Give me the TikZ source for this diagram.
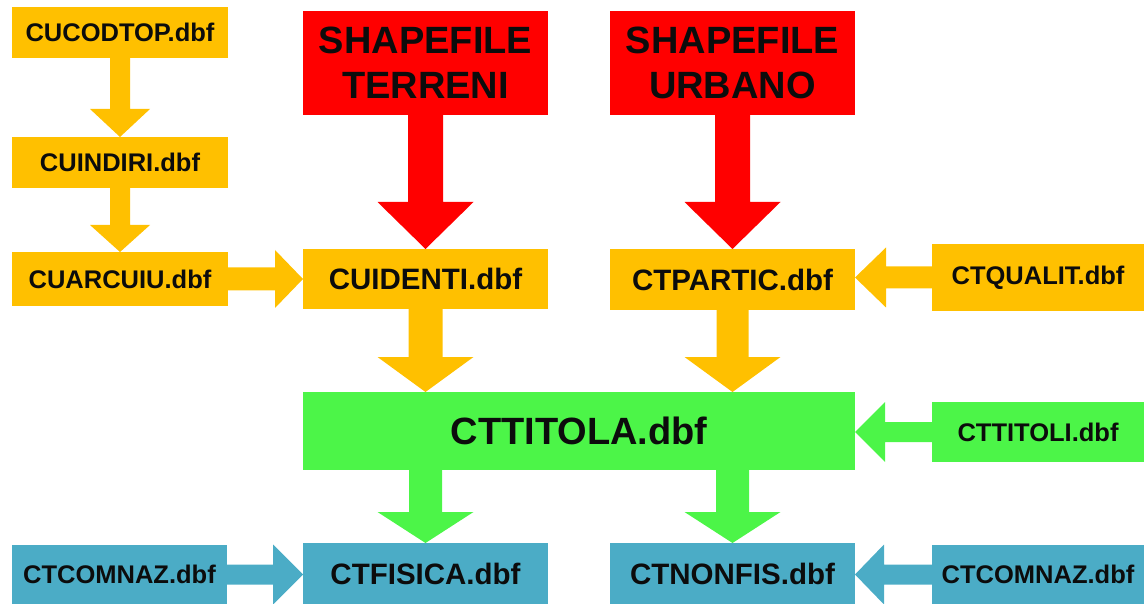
\documentclass[tikz,border=0pt]{standalone}
\usepackage{fontspec}
\setmainfont{Liberation Sans}
\usetikzlibrary{calc}

\definecolor{goldfill}{RGB}{255,192,0}
\definecolor{redfill}{RGB}{255,0,0}
\definecolor{greenfill}{RGB}{76,245,72}
\definecolor{bluefill}{RGB}{75,172,198}
\definecolor{ink}{RGB}{12,12,12}

\tikzset{
  box/.style={rectangle, inner sep=0pt, outer sep=0pt, text=ink, align=center},
  smallbox/.style={box, font=\fontsize{25.5}{28}\selectfont\bfseries},
  midbox/.style={box, font=\fontsize{29.5}{32}\selectfont\bfseries},
  bigbox/.style={box, font=\fontsize{38}{45}\selectfont\bfseries},
  gold/.style={fill=goldfill},
  redb/.style={fill=redfill},
  greenb/.style={fill=greenfill},
  blueb/.style={fill=bluefill},
}

% block arrows: colour, start, tip, shaft half width, head half width, head length
\newcommand\blockdown[6]{%
  \fill[#1] ($(#2)+(-#4,0)$) -- ($(#3)+(-#4,-#6)$) -- ($(#3)+(-#5,-#6)$) -- (#3)
    -- ($(#3)+(#5,-#6)$) -- ($(#3)+(#4,-#6)$) -- ($(#2)+(#4,0)$) -- cycle;}
\newcommand\blockright[6]{%
  \fill[#1] ($(#2)+(0,-#4)$) -- ($(#3)+(-#6,-#4)$) -- ($(#3)+(-#6,-#5)$) -- (#3)
    -- ($(#3)+(-#6,#5)$) -- ($(#3)+(-#6,#4)$) -- ($(#2)+(0,#4)$) -- cycle;}
\newcommand\blockleft[6]{%
  \fill[#1] ($(#2)+(0,-#4)$) -- ($(#3)+(#6,-#4)$) -- ($(#3)+(#6,-#5)$) -- (#3)
    -- ($(#3)+(#6,#5)$) -- ($(#3)+(#6,#4)$) -- ($(#2)+(0,#4)$) -- cycle;}

\begin{document}
\begin{tikzpicture}[x=1pt, y=-1pt]
\useasboundingbox (0,0) rectangle (1144,604);

% left column
\node[smallbox, gold, minimum width=216pt, minimum height=51pt] (cucodtop) at (120,32.5) {CUCODTOP.dbf};
\node[smallbox, gold, minimum width=216pt, minimum height=51pt] (cuindiri) at (120,162.5) {CUINDIRI.dbf};
\node[smallbox, gold, minimum width=216pt, minimum height=54pt] (cuarcuiu) at (120,279) {CUARCUIU.dbf};
\node[smallbox, blueb, minimum width=215pt, minimum height=59pt] (comnazl) at (119.5,574.5) {CTCOMNAZ.dbf};

% shapefiles
\node[bigbox, redb, minimum width=245pt, minimum height=104pt] (terreni) at (425.5,63) {SHAPEFILE\\TERRENI};
\node[bigbox, redb, minimum width=245pt, minimum height=104pt] (urbano) at (732.5,63) {SHAPEFILE\\URBANO};

% middle rows
\node[midbox, gold, minimum width=245pt, minimum height=60pt] (cuidenti) at (425.5,279) {CUIDENTI.dbf};
\node[midbox, gold, minimum width=245pt, minimum height=61pt] (ctpartic) at (732.5,279.5) {CTPARTIC.dbf};
\node[bigbox, greenb, minimum width=552pt, minimum height=78pt] (cttitola) at (579,431) {CTTITOLA.dbf};
\node[midbox, blueb, minimum width=245pt, minimum height=61pt] (ctfisica) at (425.5,573.5) {CTFISICA.dbf};
\node[midbox, blueb, minimum width=245pt, minimum height=61pt] (ctnonfis) at (732.5,573.5) {CTNONFIS.dbf};

% right column
\node[smallbox, gold, minimum width=212pt, minimum height=67pt] (ctqualit) at (1038,277.5) {CTQUALIT.dbf};
\node[smallbox, greenb, minimum width=212pt, minimum height=60pt] (cttitoli) at (1038,432) {CTTITOLI.dbf};
\node[smallbox, blueb, minimum width=212pt, minimum height=59pt] (comnazr) at (1038,574.5) {CTCOMNAZ.dbf};

% arrow ends on the wide box
\coordinate (idin) at (cuidenti.south |- cttitola.north);
\coordinate (parin) at (ctpartic.south |- cttitola.north);
\coordinate (fisout) at (ctfisica.north |- cttitola.south);
\coordinate (nonout) at (ctnonfis.north |- cttitola.south);
\coordinate (qualin) at (ctqualit.west -| ctpartic.east);
\coordinate (titin) at (cttitoli.west -| cttitola.east);
\coordinate (fisin) at (comnazl.east -| ctfisica.west);
\coordinate (nonin) at (comnazr.west -| ctnonfis.east);

% vertical arrows
\blockdown{goldfill}{cucodtop.south}{cuindiri.north}{10}{30}{28}
\blockdown{goldfill}{cuindiri.south}{cuarcuiu.north}{10}{30}{27}
\blockdown{redfill}{terreni.south}{cuidenti.north}{17.5}{48}{47}
\blockdown{redfill}{urbano.south}{ctpartic.north}{17.5}{48}{47}
\blockdown{goldfill}{cuidenti.south}{idin}{17}{48}{35}
\blockdown{goldfill}{ctpartic.south}{parin}{16}{48}{35}
\blockdown{greenfill}{fisout}{ctfisica.north}{16.5}{48}{31}
\blockdown{greenfill}{nonout}{ctnonfis.north}{16.5}{48}{31}

% horizontal arrows
\blockright{goldfill}{cuarcuiu.east}{cuidenti.west}{11.5}{29}{28}
\blockleft{goldfill}{ctqualit.west}{qualin}{11}{30}{31}
\blockleft{greenfill}{cttitoli.west}{titin}{10}{30}{30}
\blockright{bluefill}{comnazl.east}{fisin}{10}{30}{30}
\blockleft{bluefill}{comnazr.west}{nonin}{10}{30}{29}
\end{tikzpicture}
\end{document}
